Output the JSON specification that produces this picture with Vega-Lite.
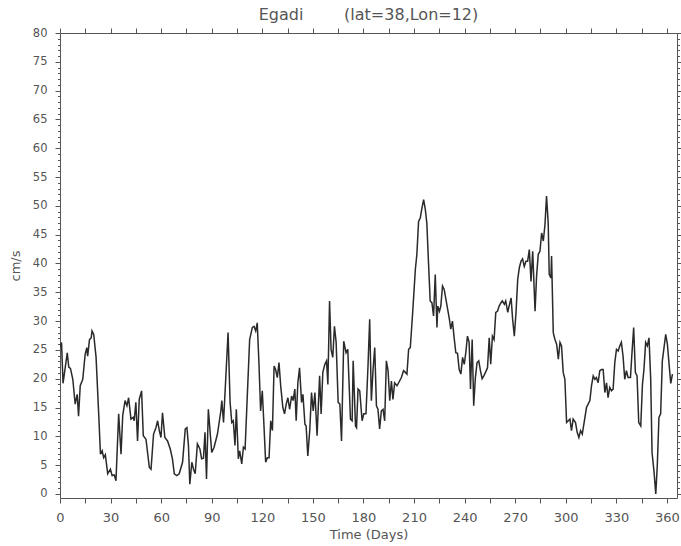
{
  "$schema": "https://vega.github.io/schema/vega-lite/v6.json",
  "autosize": "none",
  "width": 617,
  "height": 465,
  "padding": {"left": 60, "top": 33, "right": 4, "bottom": 48},
  "background": "white",
  "title": {
    "text": "Egadi\u00a0\u00a0\u00a0\u00a0\u00a0\u00a0\u00a0\u00a0(lat=38,Lon=12)",
    "font": "DejaVu Sans",
    "fontSize": 16,
    "fontWeight": "normal",
    "color": "#555555",
    "offset": 4,
    "anchor": "middle"
  },
  "config": {
    "view": {"stroke": "#555555", "strokeWidth": 1},
    "axis": {
      "domain": false,
      "grid": false,
      "tickColor": "#555555",
      "tickWidth": 1,
      "labelColor": "#555555",
      "titleColor": "#555555",
      "labelFont": "DejaVu Sans",
      "titleFont": "DejaVu Sans",
      "labelFontSize": 13,
      "titleFontSize": 13,
      "titleFontWeight": "normal",
      "labelOverlap": false,
      "labelFlush": false
    }
  },
  "data": {
    "values": [
      {"day": 0, "v": 25.5}, {"day": 0.9, "v": 26.3}, {"day": 1.8, "v": 19.2}, {"day": 4.3, "v": 24.5},
      {"day": 5.2, "v": 22}, {"day": 6.2, "v": 21.8}, {"day": 7.6, "v": 19.9}, {"day": 9, "v": 15.6},
      {"day": 10.2, "v": 17.3}, {"day": 11, "v": 13.5}, {"day": 12, "v": 18.8}, {"day": 13.5, "v": 19.9},
      {"day": 14.9, "v": 24.2}, {"day": 15.9, "v": 25.4}, {"day": 16.4, "v": 23.9}, {"day": 17.5, "v": 26.8},
      {"day": 18.5, "v": 27.1}, {"day": 19, "v": 28.3}, {"day": 20, "v": 27.7}, {"day": 21.4, "v": 23.7},
      {"day": 23, "v": 13.6}, {"day": 24, "v": 6.9}, {"day": 25, "v": 7.5}, {"day": 25.9, "v": 6.3},
      {"day": 26.9, "v": 6.8}, {"day": 28.3, "v": 3.5}, {"day": 29.9, "v": 4.3}, {"day": 30.9, "v": 3.2},
      {"day": 32.2, "v": 3.3}, {"day": 33.2, "v": 2.3}, {"day": 34.8, "v": 13.9}, {"day": 36.2, "v": 6.9},
      {"day": 37.2, "v": 13.6}, {"day": 38.6, "v": 16.2}, {"day": 39.7, "v": 15.3}, {"day": 40.7, "v": 16.7},
      {"day": 42.1, "v": 13}, {"day": 43.5, "v": 13.3}, {"day": 44, "v": 12.7}, {"day": 45, "v": 15.9},
      {"day": 46, "v": 9.2}, {"day": 47, "v": 16.4}, {"day": 48.4, "v": 17.9}, {"day": 49.4, "v": 10.1},
      {"day": 51, "v": 9.5}, {"day": 53, "v": 4.6}, {"day": 54, "v": 4.3}, {"day": 55.5, "v": 10.4},
      {"day": 56.9, "v": 11.5}, {"day": 57.9, "v": 12.7}, {"day": 58.9, "v": 11}, {"day": 59.9, "v": 9.8},
      {"day": 60.8, "v": 14.1}, {"day": 62.2, "v": 9.8}, {"day": 63.8, "v": 9.2}, {"day": 65.4, "v": 7.8},
      {"day": 66.7, "v": 6.1}, {"day": 67.8, "v": 3.5}, {"day": 69.3, "v": 3.2}, {"day": 70.7, "v": 3.5},
      {"day": 72.7, "v": 5.5}, {"day": 74.3, "v": 11.3}, {"day": 75.3, "v": 11.5}, {"day": 76.2, "v": 8.4},
      {"day": 77, "v": 1.7}, {"day": 78.2, "v": 5.5}, {"day": 79.2, "v": 4.3}, {"day": 80.2, "v": 3.5},
      {"day": 81.5, "v": 8.7}, {"day": 83, "v": 7.8}, {"day": 84, "v": 6.1}, {"day": 85.1, "v": 6.2},
      {"day": 86, "v": 10.7}, {"day": 86.9, "v": 2.6}, {"day": 88, "v": 14.7}, {"day": 90, "v": 7.2},
      {"day": 91.4, "v": 8.1}, {"day": 93.4, "v": 10.4}, {"day": 95.4, "v": 14.4}, {"day": 96, "v": 16.2},
      {"day": 97, "v": 12.4}, {"day": 98.3, "v": 19.9}, {"day": 99.7, "v": 28}, {"day": 100.9, "v": 15.9},
      {"day": 101.9, "v": 12.4}, {"day": 102.8, "v": 12.7}, {"day": 103.8, "v": 8.4}, {"day": 104.6, "v": 14.7},
      {"day": 105.8, "v": 6.1}, {"day": 106.6, "v": 7.5}, {"day": 107.8, "v": 5.2}, {"day": 108.8, "v": 8.1},
      {"day": 109.8, "v": 7.8}, {"day": 111.1, "v": 17}, {"day": 112.5, "v": 26.8}, {"day": 114.1, "v": 28.9},
      {"day": 115.1, "v": 29.1}, {"day": 116.1, "v": 28.3}, {"day": 117, "v": 29.7}, {"day": 118, "v": 22.8},
      {"day": 119, "v": 14.4}, {"day": 120, "v": 17.9}, {"day": 121, "v": 11.8}, {"day": 122, "v": 5.5},
      {"day": 123, "v": 6.3}, {"day": 124, "v": 6.3}, {"day": 125, "v": 12.7}, {"day": 126, "v": 11},
      {"day": 127, "v": 22.2}, {"day": 127.9, "v": 21.6}, {"day": 128.9, "v": 20.2}, {"day": 129.9, "v": 22.8},
      {"day": 130.9, "v": 18.8}, {"day": 132.2, "v": 15}, {"day": 133.2, "v": 13.9}, {"day": 134.2, "v": 15.6},
      {"day": 135.2, "v": 16.7}, {"day": 136.2, "v": 14.7}, {"day": 137.4, "v": 17}, {"day": 138.3, "v": 16.2},
      {"day": 139.3, "v": 18.2}, {"day": 140.1, "v": 12.7}, {"day": 141.1, "v": 19.3}, {"day": 142.1, "v": 21.9},
      {"day": 143.3, "v": 15.9}, {"day": 144.1, "v": 17.3}, {"day": 145.3, "v": 12.1}, {"day": 146, "v": 11.8},
      {"day": 147, "v": 6.6}, {"day": 148.2, "v": 11.3}, {"day": 149.2, "v": 17.6}, {"day": 150.2, "v": 14.4},
      {"day": 151.2, "v": 17.6}, {"day": 152.5, "v": 10.1}, {"day": 154, "v": 20.5}, {"day": 154.9, "v": 13.9},
      {"day": 155.9, "v": 21.1}, {"day": 157.1, "v": 22.5}, {"day": 158.1, "v": 23.1}, {"day": 158.9, "v": 19},
      {"day": 159.9, "v": 33.5}, {"day": 160.8, "v": 25.1}, {"day": 161.8, "v": 23.7}, {"day": 162.8, "v": 29.1},
      {"day": 163.8, "v": 26.3}, {"day": 165, "v": 15.9}, {"day": 166, "v": 15.6}, {"day": 167, "v": 9.2},
      {"day": 168.3, "v": 26.5}, {"day": 169.7, "v": 24.5}, {"day": 170.7, "v": 25.1}, {"day": 172.3, "v": 13},
      {"day": 173.3, "v": 12.7}, {"day": 173.9, "v": 23.1}, {"day": 175.3, "v": 11.8}, {"day": 175.9, "v": 11.5},
      {"day": 176.8, "v": 18.2}, {"day": 177.8, "v": 17.9}, {"day": 179.2, "v": 12.7}, {"day": 180.2, "v": 13.9},
      {"day": 181.5, "v": 13.9}, {"day": 182.7, "v": 22.2}, {"day": 183.7, "v": 30.3}, {"day": 184.7, "v": 16.2},
      {"day": 185.7, "v": 21.6}, {"day": 186.7, "v": 25.4}, {"day": 187.7, "v": 15.3}, {"day": 188.6, "v": 14.7},
      {"day": 189.6, "v": 11.3}, {"day": 190.6, "v": 14.4}, {"day": 191.6, "v": 14.7}, {"day": 192.6, "v": 12.7},
      {"day": 193.6, "v": 23.1}, {"day": 194.6, "v": 21.4}, {"day": 195.6, "v": 16.2}, {"day": 196.6, "v": 19.6},
      {"day": 197.5, "v": 16.4}, {"day": 198.5, "v": 19.3}, {"day": 199.9, "v": 18.8}, {"day": 200.9, "v": 19.3},
      {"day": 202.5, "v": 20.2}, {"day": 203.8, "v": 21.4}, {"day": 204.9, "v": 21.1}, {"day": 205.8, "v": 20.8},
      {"day": 206.8, "v": 25.1}, {"day": 207.8, "v": 25.4}, {"day": 209.2, "v": 31.5}, {"day": 210.8, "v": 39},
      {"day": 211.7, "v": 41.6}, {"day": 212.7, "v": 47.3}, {"day": 213.7, "v": 47.9}, {"day": 214.7, "v": 49.6},
      {"day": 215.7, "v": 51.1}, {"day": 216.7, "v": 49.4}, {"day": 217.6, "v": 47}, {"day": 218.6, "v": 40.1},
      {"day": 219.6, "v": 33.5}, {"day": 220.6, "v": 33.2}, {"day": 221.6, "v": 30.9}, {"day": 222.6, "v": 38.1},
      {"day": 223.6, "v": 28.9}, {"day": 224.1, "v": 32.6}, {"day": 225.1, "v": 31.7}, {"day": 225.9, "v": 32.6},
      {"day": 226.9, "v": 36.1}, {"day": 227.9, "v": 35.5}, {"day": 228.9, "v": 33.8}, {"day": 230, "v": 32},
      {"day": 231, "v": 30.3}, {"day": 231.8, "v": 28.6}, {"day": 232.8, "v": 30}, {"day": 233.8, "v": 27.1},
      {"day": 234.8, "v": 24.5}, {"day": 235.8, "v": 24.4}, {"day": 236.8, "v": 21.6}, {"day": 237.8, "v": 20.8},
      {"day": 238.8, "v": 23.7}, {"day": 239.8, "v": 22.5}, {"day": 240.7, "v": 24.5}, {"day": 241.7, "v": 27.4},
      {"day": 242.7, "v": 26.3}, {"day": 243.5, "v": 18.2}, {"day": 244.5, "v": 26.8}, {"day": 245.4, "v": 15.3},
      {"day": 246.4, "v": 20.2}, {"day": 247.4, "v": 22.8}, {"day": 248.4, "v": 23.1}, {"day": 249.4, "v": 21.4},
      {"day": 250.4, "v": 20}, {"day": 251.4, "v": 20.5}, {"day": 252.4, "v": 21.1}, {"day": 253.6, "v": 21.9},
      {"day": 254.6, "v": 27.1}, {"day": 255.5, "v": 22.5}, {"day": 256.5, "v": 27.4}, {"day": 257.5, "v": 26.8},
      {"day": 258.5, "v": 31.5}, {"day": 259.5, "v": 31.7}, {"day": 260.5, "v": 32.6}, {"day": 261.4, "v": 33.1},
      {"day": 262.4, "v": 33.5}, {"day": 263.6, "v": 32.9}, {"day": 264.4, "v": 33.5}, {"day": 265.6, "v": 31.5},
      {"day": 266.4, "v": 32.6}, {"day": 267.6, "v": 34}, {"day": 268.5, "v": 30.3}, {"day": 269.5, "v": 27.4},
      {"day": 270.5, "v": 31.5}, {"day": 271.5, "v": 37.2}, {"day": 272.5, "v": 39.3}, {"day": 273.5, "v": 40.4},
      {"day": 274.4, "v": 40.8}, {"day": 275.4, "v": 39.5}, {"day": 276.4, "v": 40.4}, {"day": 277.4, "v": 40.4},
      {"day": 278.4, "v": 42.4}, {"day": 279.4, "v": 36.9}, {"day": 280.4, "v": 42.1}, {"day": 281.8, "v": 31.7},
      {"day": 282.7, "v": 37.8}, {"day": 283.7, "v": 41.6}, {"day": 284.7, "v": 42.1}, {"day": 285.7, "v": 45.3},
      {"day": 286.7, "v": 43.9}, {"day": 287.7, "v": 46.8}, {"day": 288.6, "v": 51.7}, {"day": 289.6, "v": 47},
      {"day": 290.2, "v": 38.1}, {"day": 291.2, "v": 37.5}, {"day": 291.6, "v": 41.3}, {"day": 292.6, "v": 28},
      {"day": 293.6, "v": 26.8}, {"day": 294.6, "v": 26}, {"day": 295.6, "v": 23.4}, {"day": 296.6, "v": 26.3},
      {"day": 297.5, "v": 25.7}, {"day": 298.5, "v": 21.1}, {"day": 299.5, "v": 19.9}, {"day": 300.5, "v": 12.4},
      {"day": 301.5, "v": 12.7}, {"day": 302.5, "v": 13}, {"day": 303.4, "v": 11}, {"day": 304.4, "v": 13},
      {"day": 305.8, "v": 12.4}, {"day": 306.8, "v": 10.7}, {"day": 307.8, "v": 9.8}, {"day": 308.8, "v": 11},
      {"day": 309.8, "v": 10.4}, {"day": 310.9, "v": 12.4}, {"day": 312.3, "v": 15}, {"day": 313.3, "v": 15.6},
      {"day": 314.3, "v": 16.2}, {"day": 315.3, "v": 18.8}, {"day": 316.3, "v": 20.5}, {"day": 317.3, "v": 19.9},
      {"day": 318.2, "v": 20.2}, {"day": 319.2, "v": 19.3}, {"day": 320.2, "v": 21.4}, {"day": 321.2, "v": 21.6},
      {"day": 322.2, "v": 21.6}, {"day": 323.2, "v": 17.6}, {"day": 324.2, "v": 19.3}, {"day": 325.1, "v": 16.7},
      {"day": 326.1, "v": 18.5}, {"day": 327.1, "v": 17.9}, {"day": 328.1, "v": 18.2}, {"day": 329.1, "v": 22.8},
      {"day": 330.1, "v": 25.1}, {"day": 331.1, "v": 24.8}, {"day": 332.1, "v": 25.7}, {"day": 333, "v": 26.3},
      {"day": 334, "v": 23.9}, {"day": 335, "v": 19.9}, {"day": 336, "v": 21.4}, {"day": 337, "v": 20.2},
      {"day": 338.4, "v": 20.2}, {"day": 339.3, "v": 24.5}, {"day": 340.3, "v": 28.9}, {"day": 341.3, "v": 21.1},
      {"day": 342.3, "v": 20.5}, {"day": 343.3, "v": 12.4}, {"day": 344.5, "v": 11.8}, {"day": 345.5, "v": 19},
      {"day": 346.4, "v": 21.6}, {"day": 347.4, "v": 26.3}, {"day": 348.4, "v": 25.7}, {"day": 349.4, "v": 27.1},
      {"day": 350.4, "v": 19.9}, {"day": 351.2, "v": 7.2}, {"day": 352.4, "v": 3.8}, {"day": 353.4, "v": 0},
      {"day": 354.3, "v": 4.9}, {"day": 355.3, "v": 13.3}, {"day": 356.3, "v": 13.9}, {"day": 357.3, "v": 23.1},
      {"day": 358.3, "v": 25.4}, {"day": 359.3, "v": 27.7}, {"day": 360.3, "v": 26}, {"day": 361.3, "v": 22.5},
      {"day": 362.3, "v": 19.2}, {"day": 363.3, "v": 20.8}
    ]
  },
  "layer": [
    {
      "mark": {"type": "line", "color": "#2a2a2a", "strokeWidth": 1.5, "clip": true},
      "encoding": {
        "x": {
          "field": "day", "type": "quantitative",
          "scale": {"domain": [0, 366], "nice": false, "zero": false},
          "axis": {
            "orient": "bottom",
            "values": [0, 15, 30, 45, 60, 75, 90, 105, 120, 135, 150, 165, 180, 195, 210, 225, 240, 255, 270, 285, 300, 315, 330, 345, 360],
            "labelExpr": "datum.value % 30 == 0 ? datum.label : ''",
            "tickSize": 5,
            "labelPadding": 8,
            "title": "Time (Days)",
            "titlePadding": 4
          }
        },
        "y": {
          "field": "v", "type": "quantitative",
          "scale": {"domain": [-0.7, 80], "nice": false, "zero": false},
          "axis": {
            "orient": "left",
            "values": [0,1,2,3,4,5,6,7,8,9,10,11,12,13,14,15,16,17,18,19,20,21,22,23,24,25,26,27,28,29,30,31,32,33,34,35,36,37,38,39,40,41,42,43,44,45,46,47,48,49,50,51,52,53,54,55,56,57,58,59,60,61,62,63,64,65,66,67,68,69,70,71,72,73,74,75,76,77,78,79,80],
            "labelExpr": "datum.value % 5 == 0 ? datum.label : ''",
            "tickSize": {"condition": {"test": "datum.value % 5 == 0", "value": 5}, "value": 2.5},
            "labelPadding": 8,
            "labelFontSize": 11.5,
            "title": "cm/s",
            "titlePadding": 10
          }
        }
      }
    },
    {
      "mark": {"type": "line", "strokeOpacity": 0},
      "encoding": {
        "x": {
          "field": "day", "type": "quantitative",
          "axis": {
            "orient": "top",
            "values": [0, 15, 30, 45, 60, 75, 90, 105, 120, 135, 150, 165, 180, 195, 210, 225, 240, 255, 270, 285, 300, 315, 330, 345, 360],
            "labels": false,
            "tickSize": 5,
            "title": null
          }
        },
        "y": {
          "field": "v", "type": "quantitative",
          "axis": {
            "orient": "right",
            "values": [0,1,2,3,4,5,6,7,8,9,10,11,12,13,14,15,16,17,18,19,20,21,22,23,24,25,26,27,28,29,30,31,32,33,34,35,36,37,38,39,40,41,42,43,44,45,46,47,48,49,50,51,52,53,54,55,56,57,58,59,60,61,62,63,64,65,66,67,68,69,70,71,72,73,74,75,76,77,78,79,80],
            "labels": false,
            "tickSize": {"condition": {"test": "datum.value % 5 == 0", "value": 5}, "value": 2.5},
            "title": null
          }
        }
      }
    }
  ],
  "resolve": {"axis": {"x": "independent", "y": "independent"}}
}
